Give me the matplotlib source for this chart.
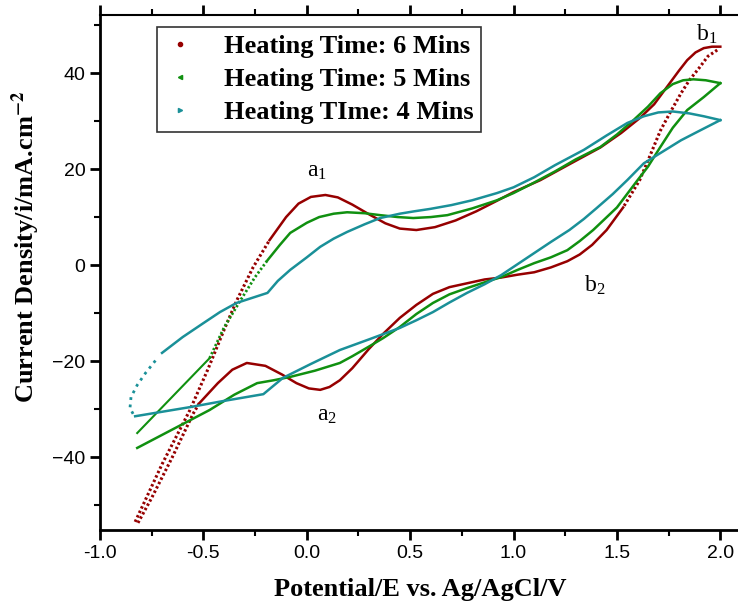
import matplotlib
matplotlib.use('Agg')
import matplotlib.pyplot as plt
from matplotlib.lines import Line2D
from matplotlib.ticker import MultipleLocator

plt.rcParams['mathtext.fontset'] = 'stix'

# Heating time 6 min (red)
e6_fwd = [-0.83, -0.70, -0.565, -0.48, -0.40, -0.34, -0.26, -0.18, -0.10, -0.04, 0.02, 0.09,
          0.15, 0.22, 0.30, 0.38, 0.45, 0.53, 0.62, 0.72, 0.82, 0.92, 1.00, 1.13, 1.27, 1.42,
          1.52, 1.61, 1.68, 1.74, 1.80, 1.84, 1.88, 1.92, 1.96, 2.00]
i6_fwd = [-53.5, -41.5, -30.2, -21.9, -13.5, -7.5, -0.5, 5.2, 10.0, 12.8, 14.2, 14.6,
          14.1, 12.6, 10.6, 8.7, 7.6, 7.3, 7.9, 9.3, 11.2, 13.4, 15.2, 17.7, 21.0, 24.5,
          27.5, 30.6, 33.5, 37.0, 40.5, 42.7, 44.3, 45.2, 45.5, 45.5]
e6_rev = [1.985, 1.94, 1.90, 1.85, 1.81, 1.76, 1.71, 1.66, 1.61, 1.53, 1.45, 1.38, 1.32, 1.26,
          1.18, 1.10, 1.02, 0.94, 0.86, 0.775, 0.69, 0.61, 0.53, 0.45, 0.37, 0.30, 0.22, 0.16,
          0.11, 0.065, 0.01, -0.05, -0.12, -0.20, -0.29, -0.36, -0.43, -0.52, -0.55, -0.65,
          -0.75, -0.82]
i6_rev = [44.8, 43.5, 41.2, 38.5, 35.8, 32.0, 28.0, 22.8, 17.7, 12.0, 7.3, 4.2, 2.2, 0.8,
          -0.5, -1.5, -2.0, -2.6, -3.0, -3.8, -4.6, -6.0, -8.3, -11.0, -14.3, -17.5, -21.5, -24.0,
          -25.4, -26.0, -25.7, -24.6, -22.8, -21.0, -20.4, -21.8, -24.6, -28.8, -31.0, -40.0,
          -48.5, -54.0]

# Heating time 5 min (green)
e5_fwd = [-0.82, -0.47, -0.40, -0.32, -0.25, -0.19, -0.13, -0.08, 0.00, 0.06, 0.13, 0.195,
          0.28, 0.355, 0.44, 0.515, 0.60, 0.68, 0.80, 0.92, 1.00, 1.10, 1.20, 1.30, 1.42, 1.50,
          1.58, 1.65, 1.71, 1.77, 1.82, 1.87, 1.93, 2.00]
i5_fwd = [-35.0, -19.4, -13.0, -7.3, -2.5, 1.0, 4.2, 6.7, 8.8, 10.0, 10.7, 11.0,
          10.8, 10.4, 10.0, 9.8, 10.0, 10.4, 11.8, 13.5, 15.0, 17.2, 19.5, 22.0, 24.6, 27.2,
          30.2, 33.0, 35.8, 37.7, 38.5, 38.7, 38.5, 37.9]
e5_rev = [2.00, 1.92, 1.84, 1.77, 1.71, 1.65, 1.60, 1.50, 1.385, 1.32, 1.26, 1.18, 1.10, 1.02,
          0.94, 0.86, 0.775, 0.69, 0.61, 0.53, 0.45, 0.37, 0.30, 0.22, 0.16, 0.04, -0.08, -0.16,
          -0.24, -0.35, -0.47, -0.82]
i5_rev = [37.9, 35.0, 32.3, 28.6, 24.6, 20.5, 17.7, 12.0, 7.3, 5.0, 3.1, 1.6, 0.4, -1.0,
          -2.5, -3.6, -4.8, -6.1, -7.9, -10.2, -12.9, -15.2, -17.0, -19.0, -20.4, -22.0, -23.3, -24.0,
          -24.6, -27.0, -30.2, -38.1]

# Heating time 4 min (teal)
e4_tail = [-0.84, -0.855, -0.85, -0.82, -0.78, -0.73]
i4_tail = [-31.0, -29.8, -27.5, -25.0, -22.5, -19.8]
e4_fwd = [-0.70, -0.60, -0.50, -0.42, -0.34, -0.19, -0.14, -0.08, 0.00, 0.065, 0.13, 0.195,
          0.28, 0.355, 0.45, 0.52, 0.597, 0.70, 0.80, 0.92, 1.00, 1.10, 1.20, 1.34, 1.45, 1.55,
          1.63, 1.70, 1.77, 1.85, 1.92, 2.00]
i4_fwd = [-18.3, -15.0, -12.1, -9.8, -7.9, -5.8, -3.3, -1.0, 1.6, 3.8, 5.5, 6.9,
          8.5, 9.8, 10.7, 11.2, 11.7, 12.5, 13.5, 15.0, 16.2, 18.3, 20.8, 24.0, 27.0, 29.6,
          31.0, 31.8, 32.0, 31.6, 31.0, 30.2]
e4_rev = [2.00, 1.90, 1.81, 1.72, 1.63, 1.55, 1.48, 1.40, 1.34, 1.27, 1.18, 1.10, 1.02, 0.94,
          0.86, 0.775, 0.69, 0.61, 0.53, 0.45, 0.30, 0.16, 0.02, -0.115, -0.21, -0.40, -0.565, -0.83]
i4_rev = [30.2, 28.0, 26.0, 23.6, 21.2, 17.7, 14.8, 11.8, 9.6, 7.3, 4.8, 2.5, 0.2, -2.1,
          -4.0, -5.8, -7.8, -9.8, -11.5, -13.1, -15.5, -17.7, -20.6, -23.5, -26.9, -28.3, -29.6, -31.5]

labels = ['Heating Time: 6 Mins', 'Heating Time: 5 Mins', 'Heating TIme: 4 Mins']
red, green, teal = '#960000', '#109010', '#1a9098'

fig = plt.figure(figsize=(7.38, 6.06), dpi=100)
ax = fig.add_axes([100 / 738, 76 / 606, 641 / 738, 515 / 606])

lw = 1.8
dots = (0, (0.8, 0.8))
# red: steep parts are sparse dots in the original
ax.plot(e6_fwd[:8], i6_fwd[:8], ls=dots, color=red, lw=2.2)
ax.plot(e6_fwd[7:], i6_fwd[7:], '-', color=red, lw=lw)
ax.plot(e6_rev[:10], i6_rev[:10], ls=dots, color=red, lw=2.2)
ax.plot(e6_rev[9:38], i6_rev[9:38], '-', color=red, lw=lw)
ax.plot(e6_rev[37:], i6_rev[37:], ls=dots, color=red, lw=2.2)

ax.plot(e5_fwd[:2], i5_fwd[:2], '-', color=green, lw=1.5)
ax.plot(e5_fwd[1:6], i5_fwd[1:6], ls=dots, color=green, lw=2)
ax.plot(e5_fwd[5:], i5_fwd[5:], '-', color=green, lw=lw)
ax.plot(e5_rev, i5_rev, '-', color=green, lw=lw)

ax.plot(e4_tail, i4_tail, ':', color=teal, lw=2)
ax.plot(e4_fwd, i4_fwd, '-', color=teal, lw=lw)
ax.plot(e4_rev, i4_rev, '-', color=teal, lw=lw)

ax.set_xlim(-1.0, 2.1)
ax.set_ylim(-55.2, 52.1)
ax.xaxis.set_major_locator(MultipleLocator(0.5))
ax.xaxis.set_minor_locator(MultipleLocator(0.25))
ax.yaxis.set_major_locator(MultipleLocator(20))
ax.yaxis.set_minor_locator(MultipleLocator(10))
ax.xaxis.set_major_formatter(plt.FuncFormatter(lambda v, p: '%.1f' % v))

for s in ['left', 'bottom']:
    ax.spines[s].set_linewidth(2)
ax.spines['top'].set_linewidth(1.5)
ax.spines['right'].set_visible(False)
ax.tick_params(which='major', direction='out', length=7, width=2, labelsize=14,
               labelfontfamily='Liberation Sans')
ax.tick_params(which='minor', direction='out', length=4, width=1.5)
ax.tick_params(axis='x', which='both', top=True, labeltop=False)

ax.set_xlabel('Potential/E vs. Ag/AgCl/V', fontsize=19, fontweight='bold',
              family='Liberation Serif', labelpad=12)
ax.set_ylabel(r'Current Density/i/mA.cm$^{\mathbf{-2}}$', fontsize=19, fontweight='bold',
              family='Liberation Serif')
ax.yaxis.set_label_coords(-0.09, 0.55)

ann = dict(fontsize=17, family='Liberation Serif')
ax.text(0.0, 18.5, r'a$_{\mathregular{1}}$', **ann)
ax.text(0.05, -32.5, r'a$_{\mathregular{2}}$', **ann)
ax.text(1.88, 46.8, r'b$_{\mathregular{1}}$', **ann)
ax.text(1.34, -5.5, r'b$_{\mathregular{2}}$', **ann)

handles = [Line2D([], [], ls='none', marker='o', ms=3, color=red),
           Line2D([], [], ls='none', marker='<', ms=3, color=green),
           Line2D([], [], ls='none', marker='>', ms=3, color=teal)]
leg = ax.legend(handles, labels, loc='upper left', bbox_to_anchor=(57 / 641, 1 - 12 / 515),
                borderaxespad=0,
                prop={'family': 'Liberation Serif', 'weight': 'bold', 'size': 19},
                frameon=True, fancybox=False, edgecolor='black', handletextpad=1.08,
                labelspacing=0.36, borderpad=0.3, handlelength=1.15)
leg.get_frame().set_linewidth(1.2)

fig.savefig('out.png', dpi=100)
